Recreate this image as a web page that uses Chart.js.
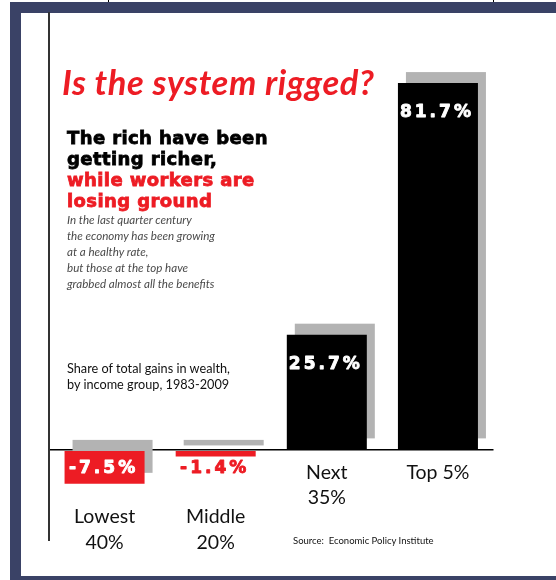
<!DOCTYPE html>
<html>
<head>
<meta charset="utf-8">
<script src="https://cdn.jsdelivr.net/npm/chart.js@4"></script>
<style>
html,body{margin:0;padding:0;background:#fff;}
#wrap{position:relative;width:556px;height:580px;overflow:hidden;background:#fff;}
#frame{position:absolute;left:10px;top:2px;right:-20px;bottom:-7px;border:11px solid #3a4266;background:#fff;}
.tick{position:absolute;top:0;width:1px;height:2px;background:#000;}
#cv{position:absolute;left:0;top:0;}
.t{position:absolute;white-space:nowrap;z-index:2;}
#title{left:62px;top:62px;font:italic 700 34.5px/40px Lato,sans-serif;letter-spacing:0.6px;color:#ed1c24;}
#heavy{left:67px;top:127px;font:700 18px/21px "DejaVu Sans",sans-serif;letter-spacing:0.4px;color:#000;-webkit-text-stroke:0.8px currentColor;}
#heavy .red{color:#ed1c24;}
#story{left:67px;top:212px;font:italic 400 11.6px/16px Lato,sans-serif;color:#4a4a4a;}
#share{left:67px;top:360px;font:400 12.7px/16px Lato,sans-serif;color:#111;}
#source{left:293px;top:535px;font:400 9.5px/12px Lato,sans-serif;color:#111;}
</style>
</head>
<body>
<div id="wrap">
  <div class="tick" style="left:108px"></div>
  <div class="tick" style="left:493px"></div>
  <div id="frame"></div>
  <canvas id="cv" width="556" height="580"></canvas>
  <div class="t" id="title">Is the system rigged?</div>
  <div class="t" id="heavy">The rich have been<br>getting richer,<br><span class="red">while workers are<br>losing ground</span></div>
  <div class="t" id="story">In the last quarter century<br>the economy has been growing<br>at a healthy rate,<br>but those at the top have<br>grabbed almost all the benefits</div>
  <div class="t" id="share">Share of total gains in wealth,<br>by income group, 1983-2009</div>
  <div class="t" id="source">Source:&nbsp; Economic Policy Institute</div>
</div>
<script>
// ---- data ----
const categories = [["Lowest", "40%"], ["Middle", "20%"], ["Next", "35%"], ["Top 5%"]];
const gainShares = [-7.5, -1.4, 25.7, 81.7];
const valueLabels = ["-7.5%", "-1.4%", "25.7%", "81.7%"];
const yRange = [-20, 97.3];

// ---- styles ----
const RED = "#ed1c24";
const SHADOW = "#b3b3b3";

const shadowPlugin = {
  id: "shadow",
  beforeDatasetsDraw(chart) {
    const ctx = chart.ctx;
    const meta = chart.getDatasetMeta(0);
    ctx.save();
    ctx.fillStyle = SHADOW;
    meta.data.forEach(bar => {
      const p = bar.getProps(["x", "y", "base", "width"], true);
      const top = Math.min(p.y, p.base), h = Math.abs(p.base - p.y);
      ctx.fillRect(p.x - p.width / 2 + 8, top - 11, p.width, h);
    });
    ctx.restore();
  }
};

const labelPlugin = {
  id: "labels",
  afterDatasetsDraw(chart) {
    const ctx = chart.ctx;
    const meta = chart.getDatasetMeta(0);
    ctx.save();
    ctx.font = 'bold 17px "DejaVu Sans"';
    ctx.letterSpacing = "3px";
    ctx.textAlign = "center";
    ctx.textBaseline = "alphabetic";
    ctx.lineWidth = 0.9;
    ctx.lineJoin = "round";
    meta.data.forEach((bar, i) => {
      const v = gainShares[i];
      const top = Math.min(bar.y, bar.base), bottom = Math.max(bar.y, bar.base), h = bottom - top;
      let ty, col;
      if (v >= 0) { ty = top + 34; col = "#fff"; }
      else if (h >= 20) { ty = (top + bottom) / 2 + 6; col = "#fff"; }
      else { ty = bottom + 17; col = RED; }
      ctx.fillStyle = col; ctx.strokeStyle = col;
      ctx.fillText(valueLabels[i], bar.x - 1, ty);
      ctx.strokeText(valueLabels[i], bar.x - 1, ty);
    });
    ctx.font = "19.5px Lato";
    ctx.letterSpacing = "0px";
    ctx.fillStyle = "#111";
    const zero = chart.scales.y.getPixelForValue(0);
    categories.forEach((lines, i) => {
      const x = chart.scales.x.getPixelForValue(i);
      const neg = gainShares[i] < 0;
      const y0 = neg ? zero + 73 : zero + 29;
      const lh = neg ? 26 : 25;
      lines.forEach((ln, k) => ctx.fillText(ln, x, y0 + k * lh));
    });
    ctx.restore();
  }
};

new Chart(document.getElementById("cv"), {
  type: "bar",
  data: {
    labels: categories,
    datasets: [{
      data: gainShares,
      backgroundColor: gainShares.map(v => v < 0 ? RED : "#000"),
      borderWidth: 0,
      barPercentage: 0.72,
      categoryPercentage: 1
    }]
  },
  options: {
    responsive: false,
    animation: false,
    devicePixelRatio: 1,
    layout: { padding: { left: 49, right: 62.5, top: 13, bottom: 40 } },
    plugins: { legend: { display: false }, tooltip: { enabled: false }, title: { display: false } },
    scales: {
      x: { display: false },
      y: {
        min: yRange[0], max: yRange[1],
        ticks: { display: false, stepSize: 10 },
        grid: {
          drawTicks: false,
          color: c => (c.tick && c.tick.value === 0) ? "#000" : "rgba(0,0,0,0)",
          lineWidth: c => (c.tick && c.tick.value === 0) ? 1.5 : 1
        },
        border: { display: true, color: "#333", width: 2 }
      }
    }
  },
  plugins: [shadowPlugin, labelPlugin]
});
</script>
</body>
</html>
